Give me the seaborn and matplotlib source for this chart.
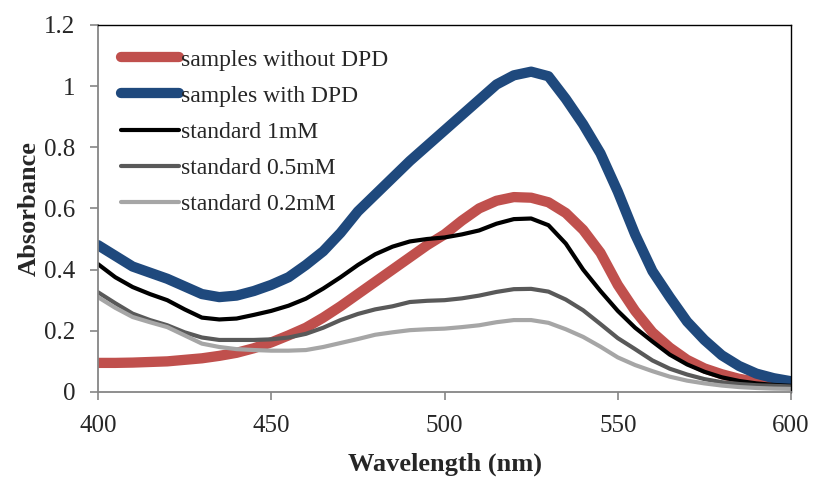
import numpy as np
import pandas as pd
import seaborn as sns
import matplotlib.pyplot as plt

wavelength = list(range(400, 601, 5))

without_dpd = [0.095, 0.095, 0.096, 0.098, 0.100, 0.105, 0.110, 0.118, 0.128, 0.143,
               0.162, 0.185, 0.210, 0.243, 0.280, 0.320, 0.360, 0.400, 0.440, 0.480,
               0.515, 0.560, 0.600, 0.625, 0.637, 0.635, 0.620, 0.585, 0.530, 0.455,
               0.350, 0.265, 0.195, 0.145, 0.105, 0.077, 0.058, 0.043, 0.033, 0.027, 0.022]
with_dpd = [0.480, 0.445, 0.410, 0.390, 0.370, 0.345, 0.320, 0.310, 0.315, 0.330,
            0.350, 0.375, 0.415, 0.460, 0.520, 0.590, 0.645, 0.700, 0.755, 0.805,
            0.855, 0.905, 0.955, 1.005, 1.035, 1.047, 1.032, 0.958, 0.875, 0.780,
            0.655, 0.515, 0.395, 0.310, 0.230, 0.170, 0.120, 0.085, 0.060, 0.045, 0.035]
std_1mM = [0.418, 0.375, 0.343, 0.320, 0.300, 0.270, 0.243, 0.237, 0.240, 0.252,
           0.265, 0.282, 0.305, 0.338, 0.375, 0.415, 0.450, 0.475, 0.492, 0.500,
           0.505, 0.515, 0.528, 0.550, 0.565, 0.567, 0.545, 0.485, 0.400, 0.330,
           0.265, 0.210, 0.165, 0.122, 0.090, 0.066, 0.048, 0.036, 0.028, 0.023, 0.020]
std_05mM = [0.326, 0.290, 0.256, 0.235, 0.218, 0.195, 0.178, 0.170, 0.170, 0.170,
            0.172, 0.178, 0.190, 0.210, 0.235, 0.255, 0.270, 0.280, 0.294, 0.298,
            0.300, 0.306, 0.315, 0.327, 0.336, 0.337, 0.328, 0.302, 0.267, 0.222,
            0.176, 0.140, 0.103, 0.076, 0.057, 0.042, 0.032, 0.026, 0.022, 0.020, 0.018]
std_02mM = [0.310, 0.275, 0.245, 0.228, 0.212, 0.185, 0.158, 0.147, 0.140, 0.137,
            0.135, 0.135, 0.137, 0.147, 0.160, 0.173, 0.187, 0.195, 0.202, 0.205,
            0.207, 0.212, 0.218, 0.228, 0.235, 0.235, 0.226, 0.205, 0.180, 0.148,
            0.113, 0.088, 0.068, 0.050, 0.037, 0.028, 0.021, 0.016, 0.013, 0.011, 0.010]

labels = ['samples without DPD', 'samples with DPD', 'standard 1mM',
          'standard 0.5mM', 'standard 0.2mM']
colors = ['#C0504D', '#1F497D', '#000000', '#595959', '#A6A6A6']
widths = [7.4, 7.4, 3.0, 3.0, 3.0]

sns.set_style('white')
plt.rcParams['font.family'] = ['Liberation Serif', 'DejaVu Serif']

fig = plt.figure(figsize=(8.13, 4.78), dpi=100)
ax = fig.add_axes([0.1205, 0.180, 0.8525, 0.768])

series = [without_dpd, with_dpd, std_1mM, std_05mM, std_02mM]
for vals, lab, c, w in zip(series, labels, colors, widths):
    sns.lineplot(x=wavelength, y=vals, color=c, lw=w, label=lab, ax=ax,
                 solid_capstyle='round', solid_joinstyle='round')

ax.set_xlim(400, 600)
ax.set_ylim(0, 1.2)
ax.set_xticks([400, 450, 500, 550, 600])
ax.set_yticks([0, 0.2, 0.4, 0.6, 0.8, 1.0, 1.2])
ax.set_yticklabels(['0', '0.2', '0.4', '0.6', '0.8', '1', '1.2'])
ax.tick_params(axis='both', labelsize=18, direction='out', length=5.5,
               width=1.2, color='#868686', left=True, bottom=True)
ax.tick_params(axis='y', pad=11)
ax.tick_params(axis='x', pad=11)
ax.set_xlabel('Wavelength (nm)', fontsize=19, fontweight='bold', labelpad=11)
ax.set_ylabel('Absorbance', fontsize=19, fontweight='bold', labelpad=2)

for s in ['left', 'bottom']:
    ax.spines[s].set_color('#868686')
    ax.spines[s].set_linewidth(1.3)
for s in ['top', 'right']:
    ax.spines[s].set_color('black')
    ax.spines[s].set_linewidth(1.0)

leg = ax.legend(loc='upper left', bbox_to_anchor=(0.02, 0.96), frameon=False,
                fontsize=17, handlelength=2.45, handletextpad=0.1,
                labelspacing=0.62, borderaxespad=0)
for h in leg.get_lines():
    h.set_solid_capstyle('round')

fig.savefig('out.png', dpi=100)
